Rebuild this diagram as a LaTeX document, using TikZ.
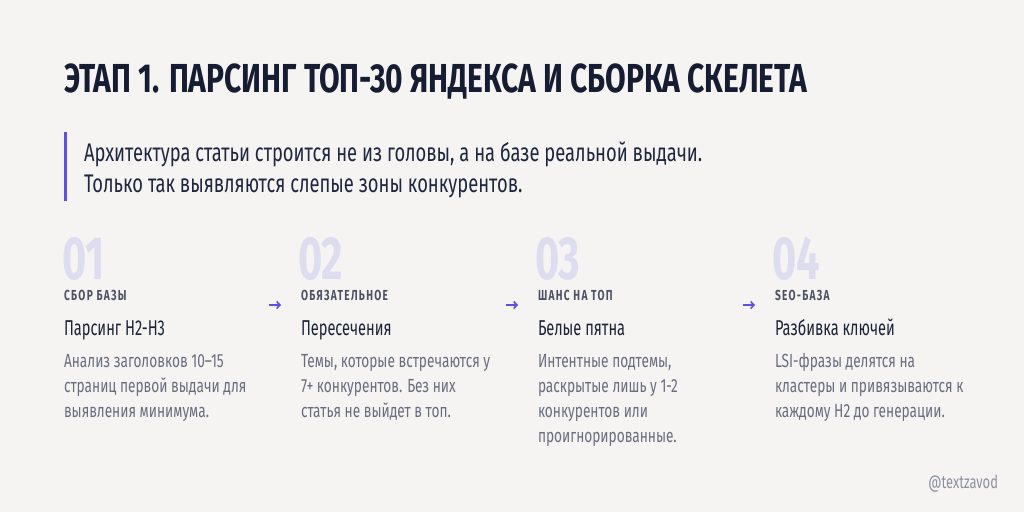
\documentclass[tikz,border=0pt]{standalone}
\usepackage{fontspec}
\usetikzlibrary{arrows.meta}
\setmainfont{Fira Sans}[FakeStretch=0.72]
\newfontfamily\titlefont{Fira Sans}[FakeStretch=0.74]
\newfontfamily\numfont{Fira Sans}[FakeStretch=0.68]
\newfontfamily\headfont{Fira Sans}[FakeStretch=0.68]
\newfontfamily\labelfont{Fira Sans}[FakeStretch=0.70,LetterSpace=9]
\definecolor{bg}{HTML}{F5F4F2}
\definecolor{navy}{HTML}{161D33}
\definecolor{subc}{HTML}{1F2640}
\definecolor{numc}{HTML}{DEDDF0}
\definecolor{labc}{HTML}{4E5266}
\definecolor{headc}{HTML}{1C2238}
\definecolor{descc}{HTML}{6A6D80}
\definecolor{accent}{HTML}{5B4FE6}
\definecolor{tagc}{HTML}{8E8FA0}
\tikzset{
  txt/.style={anchor=base west, inner sep=0pt, outer sep=0pt},
  titletxt/.style={txt, text=navy, font=\titlefont\bfseries\fontsize{40.5}{44}\selectfont},
  subtxt/.style={txt, text=subc, align=left, font=\fontsize{25.5}{31}\selectfont},
  numtxt/.style={txt, text=numc, text depth=0pt, text height=42pt, font=\numfont\bfseries\fontsize{61}{61}\selectfont},
  labtxt/.style={txt, text=labc, text height=10pt, font=\labelfont\bfseries\fontsize{14.5}{16}\selectfont},
  headtxt/.style={txt, text=headc, font=\headfont\fontsize{21.5}{24}\selectfont},
  desctxt/.style={txt, text=descc, align=left, font=\fontsize{19}{25}\selectfont},
  flow/.style={draw=accent, line width=1.6pt, -{Straight Barb[length=3.2pt,width=7pt]}},
}
\begin{document}
\begin{tikzpicture}[x=1pt,y=-1pt]
\fill[bg] (0,0) rectangle (1024,512);
\useasboundingbox (0,0) rectangle (1024,512);

\node[titletxt] (title) at (64,92) {ЭТАП 1. ПАРСИНГ ТОП-30 ЯНДЕКСА И СБОРКА СКЕЛЕТА};

\fill[accent] (63.5,132) rectangle (66.5,201);
% base anchor of a multi-line node = baseline of its last line
\node[subtxt] (sub) at (84,192) {Архитектура статьи строится не из головы, а на базе реальной выдачи.\\Только так выявляются слепые зоны конкурентов.};

% column 1
\node[numtxt] (n1) at (62,279) {01};
\node[labtxt] (l1) at (64,300) {СБОР БАЗЫ};
\node[headtxt] (h1) at (64,335) {Парсинг H2-H3};
\node[desctxt] (d1) at (64,417) {Анализ заголовков 10–15\\страниц первой выдачи для\\выявления минимума.};

% column 2
\node[numtxt] (n2) at (298,279) {02};
\node[labtxt] (l2) at (301,300) {ОБЯЗАТЕЛЬНОЕ};
\node[headtxt] (h2) at (301,335) {Пересечения};
\node[desctxt] (d2) at (301,417) {Темы, которые встречаются у\\7+ конкурентов. Без них\\статья не выйдет в топ.};

% column 3
\node[numtxt] (n3) at (535,279) {03};
\node[labtxt] (l3) at (538,300) {ШАНС НА ТОП};
\node[headtxt] (h3) at (538,335) {Белые пятна};
\node[desctxt] (d3) at (538,442) {Интентные подтемы,\\раскрытые лишь у 1-2\\конкурентов или\\проигнорированные.};

% column 4
\node[numtxt] (n4) at (772,279) {04};
\node[labtxt] (l4) at (775,300) {SEO-БАЗА};
\node[headtxt] (h4) at (775,335) {Разбивка ключей};
\node[desctxt] (d4) at (775,417) {LSI-фразы делятся на\\кластеры и привязываются к\\каждому H2 до генерации.};

% arrows
\coordinate (a1s) at (269,305); \coordinate (a1e) at (281,305);
\coordinate (a2s) at (506,305); \coordinate (a2e) at (518,305);
\coordinate (a3s) at (743,305); \coordinate (a3e) at (755,305);
\draw[flow] (a1s) -- (a1e);
\draw[flow] (a2s) -- (a2e);
\draw[flow] (a3s) -- (a3e);

\node[txt, text=tagc, font=\fontsize{18}{20}\selectfont, anchor=base east] (tag) at (998,488) {@textzavod};
\end{tikzpicture}
\end{document}
